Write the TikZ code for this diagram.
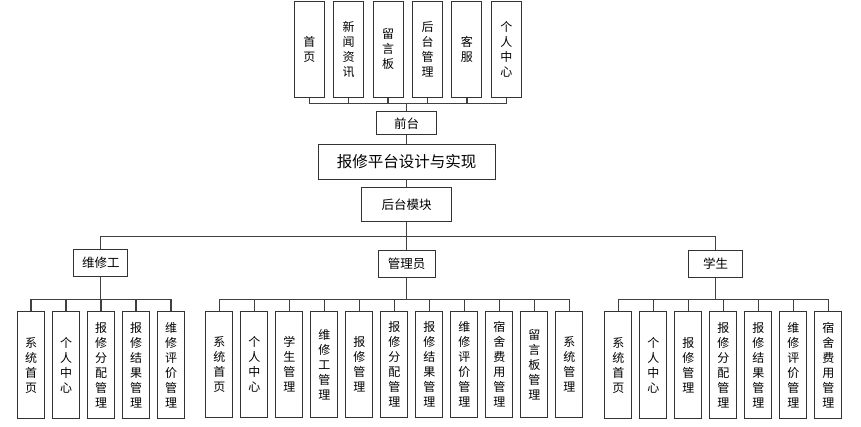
\documentclass[tikz,border=0pt]{standalone}
\usepackage{fontspec}
\setmainfont{Noto Sans CJK SC}
\begin{document}
\begin{tikzpicture}[x=1pt,y=-1pt,
  box/.style={draw=black!80,line width=1pt,fill=white,inner sep=0pt,font=\fontsize{12.5}{14}\selectfont},
  vbox/.style={box,align=center,font=\fontsize{12}{15}\selectfont},
  kid/.style={vbox,minimum width=26.7pt,minimum height=106.7pt},
  link/.style={draw=black!75,line width=1.3pt}]
\useasboundingbox (0,0) rectangle (861,427);
% top row
\foreach \t [count=\i] in {首\\页, 新\\闻\\资\\讯, 留\\言\\板, 后\\台\\管\\理, 客\\服, 个\\人\\中\\心}
  \node[vbox,minimum width=30pt,minimum height=96.5pt] (t\i) at ({309.3+39.4*(\i-1)},49.3) {\t};
\node[box,minimum width=60pt,minimum height=23pt] (qt) at (406.7,123.5) {前台};
\node[box,minimum width=176.7pt,minimum height=35.3pt,font=\fontsize{15.5}{18}\selectfont] (main) at (406.7,161.7) {报修平台设计与实现};
\node[box,minimum width=90pt,minimum height=34.4pt,font=\fontsize{12.5}{15}\selectfont] (hm) at (406.7,204.5) {后台模块};
\node[box,minimum width=53.7pt,minimum height=27.4pt] (r1) at (100.8,263) {维修工};
\node[box,minimum width=56.7pt,minimum height=26.6pt] (r2) at (406.7,264) {管理员};
\node[box,minimum width=54.4pt,minimum height=26.6pt] (r3) at (715.5,264) {学生};
% children
\foreach \t [count=\i] in {系\\统\\首\\页, 个\\人\\中\\心, 报\\修\\分\\配\\管\\理, 报\\修\\结\\果\\管\\理, 维\\修\\评\\价\\管\\理}
  \node[kid] (a\i) at ({31+35*(\i-1)},365) {\t};
\foreach \t [count=\i] in {系\\统\\首\\页, 个\\人\\中\\心, 学\\生\\管\\理, 维\\修\\工\\管\\理, 报\\修\\管\\理, 报\\修\\分\\配\\管\\理, 报\\修\\结\\果\\管\\理, 维\\修\\评\\价\\管\\理, 宿\\舍\\费\\用\\管\\理, 留\\言\\板\\管\\理, 系\\统\\管\\理}
  \node[kid] (b\i) at ({219.3+35*(\i-1)},364.5) {\t};
\foreach \t [count=\i] in {系\\统\\首\\页, 个\\人\\中\\心, 报\\修\\管\\理, 报\\修\\分\\配\\管\\理, 报\\修\\结\\果\\管\\理, 维\\修\\评\\价\\管\\理, 宿\\舍\\费\\用\\管\\理}
  \node[kid] (c\i) at ({618.3+35*(\i-1)},365.3) {\t};
% connectors
\foreach \i in {1,...,6}
  \draw[link] (t\i.south) -- ++(0,5.5) -| (qt.north);
\draw[link] (qt.south) -- (main.north);
\draw[link] (main.south) -- (hm.north);
\foreach \r in {r1,r2,r3}
  \draw[link] (hm.south) -- ++(0,14) -| (\r.north);
\foreach \i in {1,...,5}
  \draw[link] (r1.south) -- ++(0,22) -| (a\i.north);
\foreach \i in {1,...,11}
  \draw[link] (r2.south) -- ++(0,21.5) -| (b\i.north);
\foreach \i in {1,...,7}
  \draw[link] (r3.south) -- ++(0,22) -| (c\i.north);
\end{tikzpicture}
\end{document}
